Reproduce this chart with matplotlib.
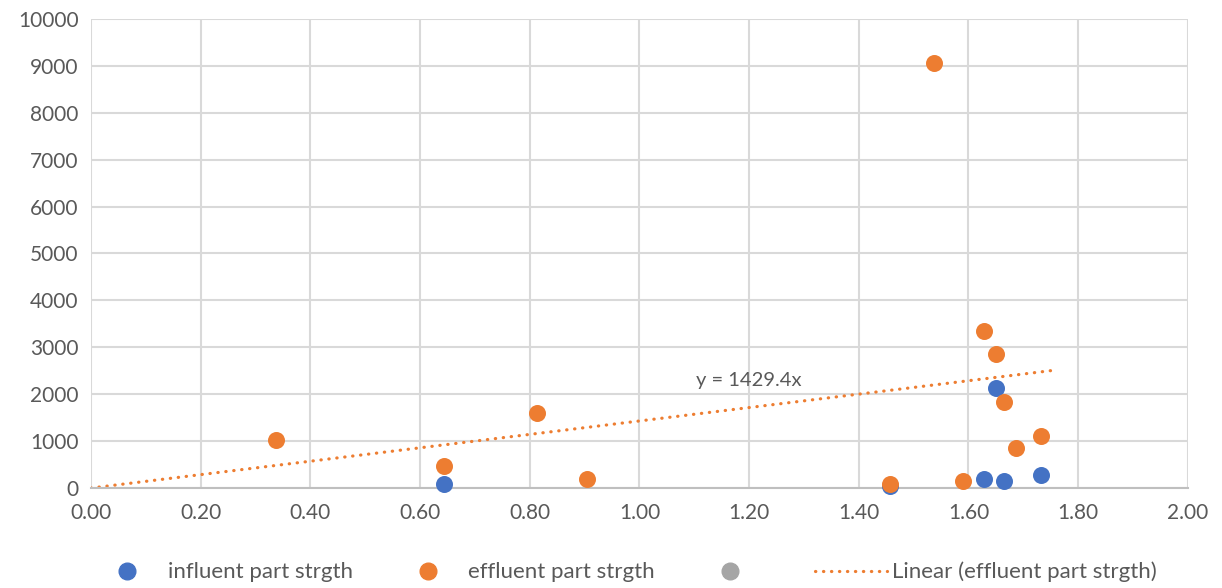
import matplotlib.pyplot as plt
from matplotlib.lines import Line2D

plt.rcParams['font.family'] = ['Lato', 'DejaVu Sans']

# influent part strength (blue)
infl_x = [0.644, 1.457, 1.629, 1.651, 1.665, 1.733]
infl_y = [86, 36, 185, 2140, 140, 280]

# effluent part strength (orange)
effl_x = [0.337, 0.644, 0.813, 0.904, 1.457, 1.537, 1.591, 1.629, 1.651, 1.665, 1.687, 1.733]
effl_y = [1020, 460, 1600, 185, 90, 9050, 160, 3340, 2865, 1825, 860, 1110]

# third series has no visible points
other_x = []
other_y = []

slope = 1429.4
trend_x = [0.0, 1.752]
trend_y = [slope * v for v in trend_x]

xticks = [0.0, 0.2, 0.4, 0.6, 0.8, 1.0, 1.2, 1.4, 1.6, 1.8, 2.0]
yticks = [0, 1000, 2000, 3000, 4000, 5000, 6000, 7000, 8000, 9000, 10000]

blue = '#4472C4'
orange = '#ED7D31'
gray = '#A5A5A5'
txt = '#595959'

fig = plt.figure(figsize=(12.22, 5.88), dpi=100)
ax = fig.add_axes([0.0745, 0.170, 0.8975, 0.798])

ax.plot(trend_x, trend_y, color=orange, lw=2.3, linestyle=(0, (0.1, 2.4)),
        dash_capstyle='round', zorder=2)
ax.scatter(infl_x, infl_y, s=150, color=blue, zorder=3, linewidths=0, clip_on=False)
ax.scatter(effl_x, effl_y, s=150, color=orange, zorder=4, linewidths=0, clip_on=False)
ax.scatter(other_x, other_y, s=150, color=gray, zorder=4, linewidths=0)

ax.text(1.2, 2300, 'y = 1429.4x', ha='center', va='center', fontsize=14.5, color=txt)

ax.set_xlim(0, 2.0)
ax.set_ylim(0, 10000)
ax.set_xticks(xticks)
ax.set_yticks(yticks)
ax.set_xticklabels([f'{v:.2f}' for v in xticks])
ax.set_yticklabels([str(v) for v in yticks])
ax.tick_params(length=0, labelsize=15, colors=txt, pad=11)
ax.tick_params(axis='y', pad=9)
ax.grid(True, color='#D9D9D9', lw=1.5)
ax.set_axisbelow(True)
for s in ['top', 'right', 'left']:
    ax.spines[s].set_visible(False)
ax.spines['bottom'].set_color('#BFBFBF')
ax.spines['bottom'].set_linewidth(1.5)

ls_dot = (0, (0.1, 2.4))
handles = [
    Line2D([], [], marker='o', color=blue, ls='none', markersize=12),
    Line2D([], [], marker='o', color=orange, ls='none', markersize=12),
    Line2D([], [], marker='o', color=gray, ls='none', markersize=12),
    Line2D([], [], color=orange, lw=2.3, linestyle=ls_dot, dash_capstyle='round'),
]
labels = ['influent part strgth', 'effluent part strgth', ' ', 'Linear (effluent part strgth)']
fig.legend(handles, labels, loc='center left', bbox_to_anchor=(0.0745, 0.027), ncol=4,
           frameon=False, fontsize=16, labelcolor=txt, columnspacing=1.75,
           handlelength=3.25, handletextpad=0.2, borderpad=0, borderaxespad=0)

fig.savefig('out.png', dpi=100)
